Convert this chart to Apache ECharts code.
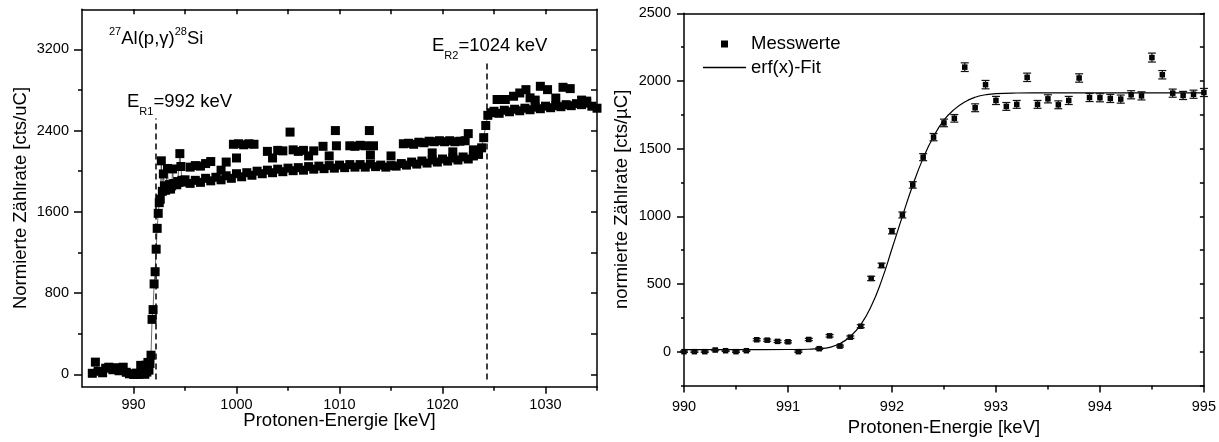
<!DOCTYPE html>
<html>
<head>
<meta charset="utf-8">
<script src="https://cdn.jsdelivr.net/npm/echarts@6/dist/echarts.min.js"></script>
<style>html,body{margin:0;padding:0;background:#fff}#c{width:1219px;height:442px}</style>
</head>
<body>
<div id="c"></div>
<script>
// ---------- data ----------
// left panel: low-energy background region
const leftLowE = [986.0, 986.3, 986.6, 987.0, 987.3, 987.6, 988.0, 988.3, 988.6, 989.0, 989.3, 989.6];
const leftLowY = [10, 120, 30, 15, 60, 70, 45, 65, 35, 70, 20, 5];
// fine scan 990-995 keV (shown in right panel, also part of left panel)
const scanE = [990.0,990.1,990.2,990.3,990.4,990.5,990.6,990.7,990.8,990.9,991.0,991.1,991.2,991.3,991.4,991.5,991.6,991.7,991.8,991.9,992.0,992.1,992.2,992.3,992.4,992.5,992.6,992.7,992.8,992.9,993.0,993.1,993.2,993.3,993.4,993.5,993.6,993.7,993.8,993.9,994.0,994.1,994.2,994.3,994.4,994.5,994.6,994.7,994.8,994.9,995.0];
const scanY = [0,0,0,12,7,0,7,88,85,76,73,0,90,22,117,41,107,188,541,637,890,1010,1232,1437,1585,1690,1724,2102,1802,1973,1856,1812,1827,2027,1827,1868,1824,1856,2022,1878,1876,1871,1866,1898,1890,2173,2046,1910,1893,1902,1915];
const scanErr = [5,5,5,5,5,5,5,8,8,8,8,5,8,6,9,7,9,11,16,17,20,22,24,26,27,28,28,32,29,31,30,29,29,31,29,30,29,30,31,30,30,30,30,30,30,33,31,30,30,30,30];
// left panel: main band above 995 keV
const bandE = [995.5,996.0,996.5,997.0,997.5,998.0,998.5,999.0,999.5,1000.0,1000.5,1001.0,1001.5,1002.0,1002.5,1003.0,1003.5,1004.0,1004.5,1005.0,1005.5,1006.0,1006.5,1007.0,1007.5,1008.0,1008.5,1009.0,1009.5,1010.0,1010.5,1011.0,1011.5,1012.0,1012.5,1013.0,1013.5,1014.0,1014.5,1015.0,1015.5,1016.0,1016.5,1017.0,1017.5,1018.0,1018.5,1019.0,1019.5,1020.0,1020.5,1021.0,1021.5,1022.0,1022.5,1023.0,1023.5,1023.8,1024.0,1024.2,1024.4,1024.7,1025.0,1025.5,1026.0,1026.5,1027.0,1027.5,1028.0,1028.5,1029.0,1029.5,1030.0,1030.5,1031.0,1031.5,1032.0,1032.5,1033.0,1033.5,1034.0,1034.5,1035.0];
const bandY = [1880,1910,1890,1930,1905,1940,1915,1955,1930,1975,1945,1985,1960,2000,1975,2010,1985,2020,1995,2030,2005,2035,2010,2045,2020,2050,2025,2055,2030,2060,2035,2065,2040,2065,2040,2070,2045,2060,2040,2055,2050,2075,2060,2090,2070,2100,2080,2110,2090,2120,2100,2130,2110,2140,2120,2150,2165,2230,2330,2450,2550,2575,2590,2570,2600,2585,2610,2595,2620,2605,2630,2615,2640,2625,2645,2635,2655,2645,2665,2655,2670,2640,2620];
// left panel: scattered higher points
const upperE = [995.5,996.0,996.5,997.0,997.5,998.5,999.0,999.7,1000.0,1000.2,1000.7,1001.2,1001.7,1003.0,1003.5,1004.0,1004.5,1005.2,1005.5,1006.0,1006.5,1007.0,1007.5,1008.4,1009.0,1009.6,1009.7,1011.0,1011.5,1012.0,1012.5,1012.9,1013.0,1013.3,1015.0,1016.2,1016.7,1017.2,1017.7,1018.2,1018.7,1019.0,1019.2,1019.7,1020.2,1020.7,1021.0,1021.2,1021.7,1022.2,1022.5,1023.0,1025.3,1026.1,1026.9,1027.5,1028.1,1028.5,1029.0,1029.5,1030.2,1031.0,1031.7,1032.4,1033.5,1034.0];
const upperY = [2040,2055,2050,2075,2095,2010,2090,2265,2130,2270,2260,2270,2265,2195,2130,2205,2200,2385,2210,2195,2205,2150,2200,2245,2150,2400,2250,2250,2245,2255,2250,2400,2160,2250,2150,2270,2275,2265,2285,2280,2295,2180,2290,2300,2290,2300,2190,2290,2295,2300,2370,2210,2706,2706,2738,2770,2803,2722,2700,2836,2803,2720,2826,2813,2700,2690];
// resonance markers
const resonanceE = [992.2, 1024.3];
const resonanceTop = [2520, 3060];
// erf fit curve
const fitE = [990.0,990.5,991.0,991.2,991.3,991.4,991.5,991.6,991.7,991.8,991.9,992.0,992.1,992.2,992.3,992.4,992.5,992.6,992.7,992.8,992.9,993.0,993.2,993.5,994.0,995.0];
const fitY = [15,15,16,18,22,32,60,112,200,335,525,760,1000,1230,1430,1590,1710,1790,1845,1880,1898,1907,1911,1912,1912,1912];
// tick values
const leftXTicks = [990, 1000, 1010, 1020, 1030];
const leftXMinor = [995, 1005, 1015, 1025, 1035];
const leftXTop = [990, 995, 1000, 1005, 1010, 1015, 1020, 1025, 1030];
const leftYTicks = [0, 800, 1600, 2400, 3200];
const leftYMinor = [400, 1200, 2000, 2800];
const leftYRight = [0, 400, 800, 1200, 1600, 2000, 2400, 2800, 3200];
const rightYTicks = [0, 500, 1000, 1500, 2000, 2500];
const rightYMinor = [-250, 250, 750, 1250, 1750, 2250];
const rightYRight = [-250, 0, 250, 500, 750, 1000, 1250, 1500, 1750, 2000, 2250, 2500];

// ---------- chart ----------
const FONT = 'Liberation Sans, Arial, Helvetica, sans-serif';
const BLACK = '#000';
const lineStyle = {color: BLACK, width: 1.5};
const zip = (a, b) => a.map((v, i) => [v, b[i]]);
const plain = v => String(v);

const leftMain = zip(leftLowE, leftLowY).concat(zip(scanE, scanY)).concat(zip(bandE, bandY));

const L = {min: 985, max: 1035}, LY = {min: -122, max: 3594};
const R = {min: 990, max: 995}, RY = {min: -250, max: 2500};

function xAx(grid, rng, o) {
  return Object.assign({
    gridIndex: grid, type: 'value', min: rng.min, max: rng.max, position: 'bottom',
    axisLine: {show: true, onZero: false, lineStyle},
    axisTick: {show: false}, axisLabel: {show: false}, splitLine: {show: false}
  }, o);
}
function yAx(grid, rng, o) {
  return Object.assign({
    gridIndex: grid, type: 'value', min: rng.min, max: rng.max, position: 'left',
    axisLine: {show: true, onZero: false, lineStyle},
    axisTick: {show: false}, axisLabel: {show: false}, splitLine: {show: false}
  }, o);
}
const labelStyle = {color: BLACK, fontFamily: FONT, fontSize: 14.5, formatter: plain};
const nameStyle = {color: BLACK, fontFamily: FONT, fontSize: 18.5};

const xAxis = [
  xAx(0, L, {axisTick: {show: true, length: 7, customValues: leftXTicks, lineStyle},
    axisLabel: Object.assign({show: true, margin: 11, customValues: leftXTicks}, labelStyle),
    name: 'Protonen-Energie [keV]', nameLocation: 'middle', nameGap: 25, nameMoveOverlap: false, nameTextStyle: nameStyle}),
  xAx(0, L, {axisLine: {show: false, onZero: false}, axisTick: {show: true, length: 4, customValues: leftXMinor, lineStyle}}),
  xAx(0, L, {position: 'top', axisTick: {show: true, inside: true, length: 5, customValues: leftXTop, lineStyle}}),
  xAx(1, R, {interval: 1, axisTick: {show: true, length: 7, lineStyle},
    minorTick: {show: true, splitNumber: 2, length: 4, lineStyle},
    axisLabel: Object.assign({show: true, margin: 14}, labelStyle),
    name: 'Protonen-Energie [keV]', nameLocation: 'middle', nameGap: 32.5, nameMoveOverlap: false, nameTextStyle: nameStyle}),
  xAx(1, R, {position: 'top'})
];
const yAxis = [
  yAx(0, LY, {axisTick: {show: true, length: 8, customValues: leftYTicks, lineStyle},
    axisLabel: Object.assign({show: true, margin: 13, customValues: leftYTicks}, labelStyle),
    name: 'Normierte Zählrate [cts/uC]', nameLocation: 'middle', nameGap: 51.5, nameMoveOverlap: false, nameTextStyle: nameStyle}),
  yAx(0, LY, {axisLine: {show: false, onZero: false}, axisTick: {show: true, length: 4, customValues: leftYMinor, lineStyle}}),
  yAx(0, LY, {position: 'right', axisTick: {show: true, inside: true, length: 6, customValues: leftYRight, lineStyle}}),
  yAx(1, RY, {axisTick: {show: true, length: 7, customValues: rightYTicks, lineStyle},
    axisLabel: Object.assign({show: true, margin: 13, customValues: rightYTicks}, labelStyle),
    name: 'normierte Zählrate [cts/µC]', nameLocation: 'middle', nameGap: 52.5, nameMoveOverlap: false, nameTextStyle: nameStyle}),
  yAx(1, RY, {axisLine: {show: false, onZero: false}, axisTick: {show: true, length: 3, customValues: rightYMinor, lineStyle}}),
  yAx(1, RY, {position: 'right', axisTick: {show: true, inside: true, length: 4, customValues: rightYRight, lineStyle}})
];

const option = {
  animation: false,
  backgroundColor: '#fff',
  grid: [
    {left: 82, right: 622, top: 9.3, bottom: 55.3},
    {left: 684, right: 14, top: 13.3, bottom: 53.7}
  ],
  xAxis, yAxis,
  legend: {
    data: [
      {name: 'Messwerte', icon: 'path://M0 0H10V10H0Z'},
      {name: 'erf(x)-Fit', icon: 'path://M0 0H100V3H0Z'}
    ],
    orient: 'vertical', left: 698, top: 29.5,
    itemWidth: 43, itemHeight: 7, itemGap: 4.5, symbolKeepAspect: true,
    textStyle: {color: BLACK, fontFamily: FONT, fontSize: 18.5},
    selectedMode: false
  },
  graphic: [
    {type: 'text', x: 109, y: 39, z: 100, style: {
      text: '{sup|27}{n|Al(p,}{n|γ}{n|)}{sup|28}{n|Si}', verticalAlign: 'middle', fill: BLACK,
      rich: {n: {fontSize: 18.5, fontFamily: FONT, lineHeight: 26, verticalAlign: 'middle'},
             sup: {fontSize: 11, fontFamily: FONT, lineHeight: 11, verticalAlign: 'top'}}}},
    {type: 'text', x: 127, y: 102, z: 100, style: {
      text: '{n|E}{sub|R1}{n|=992 keV}', verticalAlign: 'middle', fill: BLACK,
      rich: {n: {fontSize: 18.5, fontFamily: FONT, lineHeight: 30, verticalAlign: 'middle'},
             sub: {fontSize: 11, fontFamily: FONT, lineHeight: 11, verticalAlign: 'bottom'}}}},
    {type: 'text', x: 432, y: 46, z: 100, style: {
      text: '{n|E}{sub|R2}{n|=1024 keV}', verticalAlign: 'middle', fill: BLACK,
      rich: {n: {fontSize: 18.5, fontFamily: FONT, lineHeight: 30, verticalAlign: 'middle'},
             sub: {fontSize: 11, fontFamily: FONT, lineHeight: 11, verticalAlign: 'bottom'}}}}
  ],
  series: [
    {
      name: 'left-main', type: 'line', xAxisIndex: 0, yAxisIndex: 0,
      data: leftMain, symbol: 'rect', symbolSize: 9, showSymbol: true,
      itemStyle: {color: BLACK, opacity: 1}, lineStyle: {color: '#444', width: 0.8},
      emphasis: {disabled: true}, z: 3,
      markLine: {
        silent: true, symbol: 'none', label: {show: false},
        lineStyle: {color: BLACK, width: 1.5, type: [6, 4]},
        data: resonanceE.map((e, i) => [{coord: [e, -50]}, {coord: [e, resonanceTop[i]]}])
      }
    },
    {
      name: 'left-upper', type: 'scatter', xAxisIndex: 0, yAxisIndex: 0,
      data: zip(upperE, upperY), symbol: 'rect', symbolSize: 9,
      itemStyle: {color: BLACK, opacity: 1}, emphasis: {disabled: true}, z: 3
    },
    {
      name: 'Messwerte', type: 'scatter', xAxisIndex: 3, yAxisIndex: 3,
      data: zip(scanE, scanY), symbol: 'rect', symbolSize: 5.5,
      itemStyle: {color: BLACK, opacity: 1}, emphasis: {disabled: true}, z: 4
    },
    {
      name: 'err', type: 'custom', xAxisIndex: 3, yAxisIndex: 3,
      data: scanE.map((e, i) => [e, scanY[i] - scanErr[i], scanY[i] + scanErr[i]]),
      encode: {x: 0, y: [1, 2]}, z: 5,
      renderItem: function (params, api) {
        const x = api.value(0), lo = api.value(1), hi = api.value(2);
        const p1 = api.coord([x, hi]), p2 = api.coord([x, lo]);
        const w = 4;
        const st = {stroke: '#111', lineWidth: 1.2};
        return {type: 'group', children: [
          {type: 'line', shape: {x1: p1[0], y1: p1[1], x2: p2[0], y2: p2[1]}, style: st},
          {type: 'line', shape: {x1: p1[0] - w, y1: p1[1], x2: p1[0] + w, y2: p1[1]}, style: st},
          {type: 'line', shape: {x1: p2[0] - w, y1: p2[1], x2: p2[0] + w, y2: p2[1]}, style: st}
        ]};
      }
    },
    {
      name: 'erf(x)-Fit', type: 'line', xAxisIndex: 3, yAxisIndex: 3,
      data: zip(fitE, fitY), symbol: 'none', showSymbol: false, smooth: true,
      itemStyle: {color: BLACK}, lineStyle: {color: BLACK, width: 1.2}, z: 3
    }
  ]
};
const chart = echarts.init(document.getElementById('c'), null, {renderer: 'canvas'});
chart.setOption(option);
</script>
</body>
</html>
